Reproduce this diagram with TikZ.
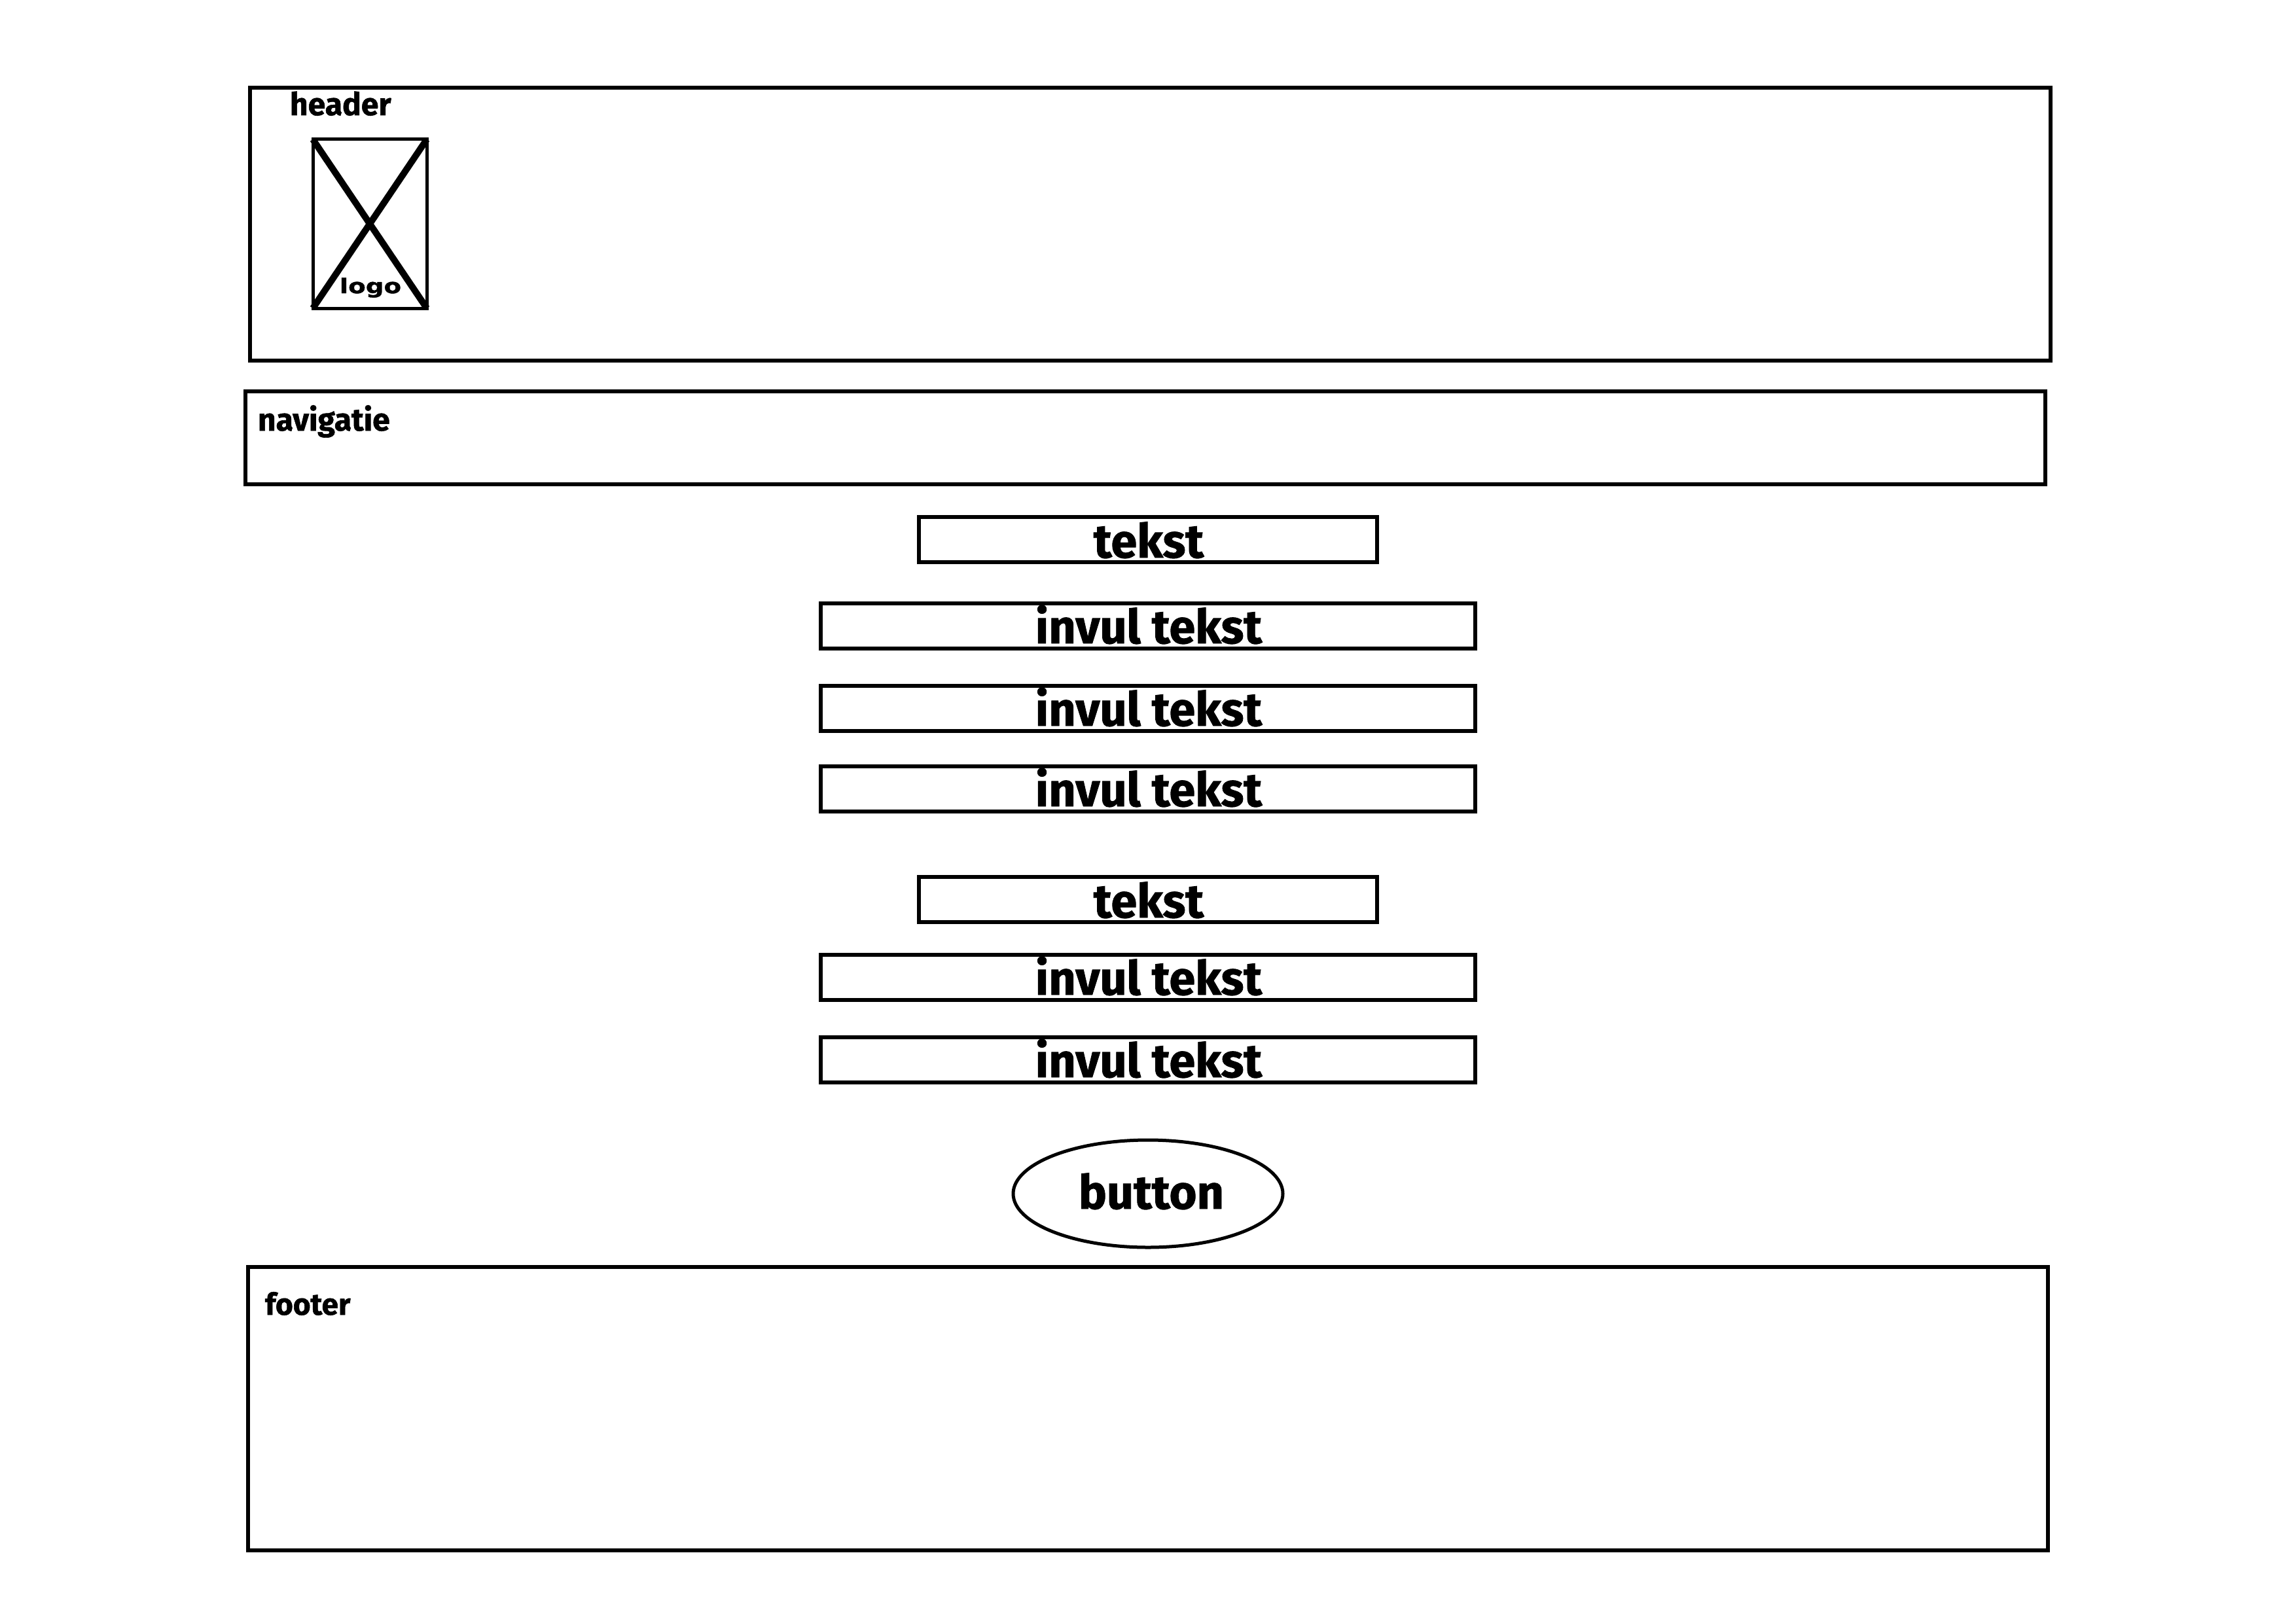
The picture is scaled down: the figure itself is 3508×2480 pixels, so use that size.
\documentclass[tikz,border=0pt]{standalone}
\usepackage{fontspec}
\setmainfont{Fira Sans}
\newfontfamily\heavyfont[FakeBold=1.2]{Fira Sans Bold}
\newfontfamily\logofont[FakeStretch=1.25, FakeBold=1.2]{DejaVu Sans Bold}
\usetikzlibrary{shapes.geometric}
\tikzset{
  box/.style={draw=black, line width=5.5pt, rectangle, inner sep=0pt, outer sep=0pt},
  heading/.style={inner sep=0pt, outer sep=0pt, font=\heavyfont\fontsize{48}{56}\selectfont},
  big/.style={inner sep=0pt, outer sep=0pt, font=\heavyfont\fontsize{72}{80}\selectfont},
  crossline/.style={line width=10pt, draw=black},
}
\begin{document}
\begin{tikzpicture}[x=1pt, y=-1pt]
\useasboundingbox[fill=white] (0,0) rectangle (3508,2480);
% header
\node[box, minimum width=2751pt, minimum height=417pt] (header) at (1757.5,342.5) {};
\node[heading, anchor=base west] (headerlbl) at (443,176) {header};
\node[draw=black, line width=5pt, rectangle, inner sep=0pt, outer sep=0pt, minimum width=174pt, minimum height=258pt] (logo) at (565,342) {};
\draw[crossline] (logo.north west) -- (logo.south east);
\draw[crossline] (logo.north east) -- (logo.south west);
\node[inner sep=0pt, anchor=base, font=\logofont\fontsize{31}{34}\selectfont] (logolbl) at (566,448) {logo};
% navigation
\node[box, minimum width=2750pt, minimum height=142pt] (nav) at (1750,669) {};
\node[heading, anchor=base west] (navlbl) at (394,658) {navigatie};
% form fields
\node[box, minimum width=700pt, minimum height=69pt] (t1) at (1754,824.5) {};
\node[big, anchor=base] (t1lbl) at (1755,852) {tekst};
\node[box, minimum width=1000pt, minimum height=69pt] (i1) at (1754,956.5) {};
\node[big, anchor=base] (i1lbl) at (1755,983) {invul tekst};
\node[box, minimum width=1000pt, minimum height=69pt] (i2) at (1754,1082.5) {};
\node[big, anchor=base] (i2lbl) at (1755,1109) {invul tekst};
\node[box, minimum width=1000pt, minimum height=69pt] (i3) at (1754,1205.5) {};
\node[big, anchor=base] (i3lbl) at (1755,1232) {invul tekst};
\node[box, minimum width=700pt, minimum height=69pt] (t2) at (1754,1374.5) {};
\node[big, anchor=base] (t2lbl) at (1755,1402) {tekst};
\node[box, minimum width=1000pt, minimum height=69pt] (i4) at (1754,1493.5) {};
\node[big, anchor=base] (i4lbl) at (1755,1520) {invul tekst};
\node[box, minimum width=1000pt, minimum height=69pt] (i5) at (1754,1619.5) {};
\node[big, anchor=base] (i5lbl) at (1755,1646) {invul tekst};
% button
\node[draw=black, line width=5pt, ellipse, inner sep=0pt, outer sep=0pt, minimum width=412pt, minimum height=164pt] (btn) at (1754,1824) {};
\node[big, anchor=base] (btnlbl) at (1759,1847) {button};
% footer
\node[box, minimum width=2750pt, minimum height=433pt] (footer) at (1754,2152.5) {};
\node[heading, anchor=base west, font=\heavyfont\fontsize{46}{52}\selectfont] (footerlbl) at (405,2009) {footer};
\end{tikzpicture}
\end{document}
